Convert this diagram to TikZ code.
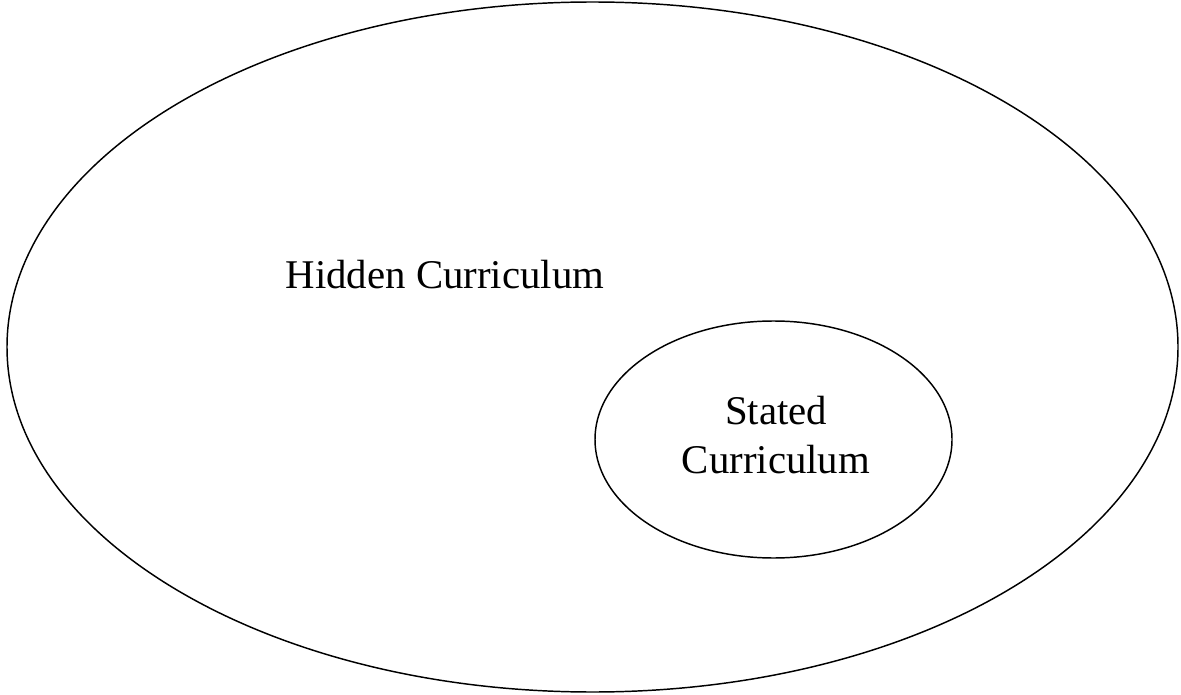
\documentclass[tikz,border=0pt]{standalone}
\usepackage{fontspec}
\setmainfont{Liberation Serif}
\usetikzlibrary{shapes.geometric}
\begin{document}
\begin{tikzpicture}[x=0.75pt,y=-0.75pt,
  ring/.style={draw=black,line width=1.1pt,ellipse,inner sep=0pt},
  lbl/.style={font=\fontsize{30.6}{36.5}\selectfont,inner sep=0pt,align=center}]
\useasboundingbox (0,0) rectangle (1181,695);
\node[ring,minimum width=1171*0.75pt,minimum height=690*0.75pt] (hidden) at (592.5,347) {};
\node[ring,minimum width=357*0.75pt,minimum height=237*0.75pt] (stated) at (773.5,439.5) {};
\node[lbl,anchor=base] (hiddenlbl) at (445,289) {Hidden Curriculum};
\node[lbl] (statedlbl) at (776,435) {Stated\\Curriculum};
\end{tikzpicture}
\end{document}
